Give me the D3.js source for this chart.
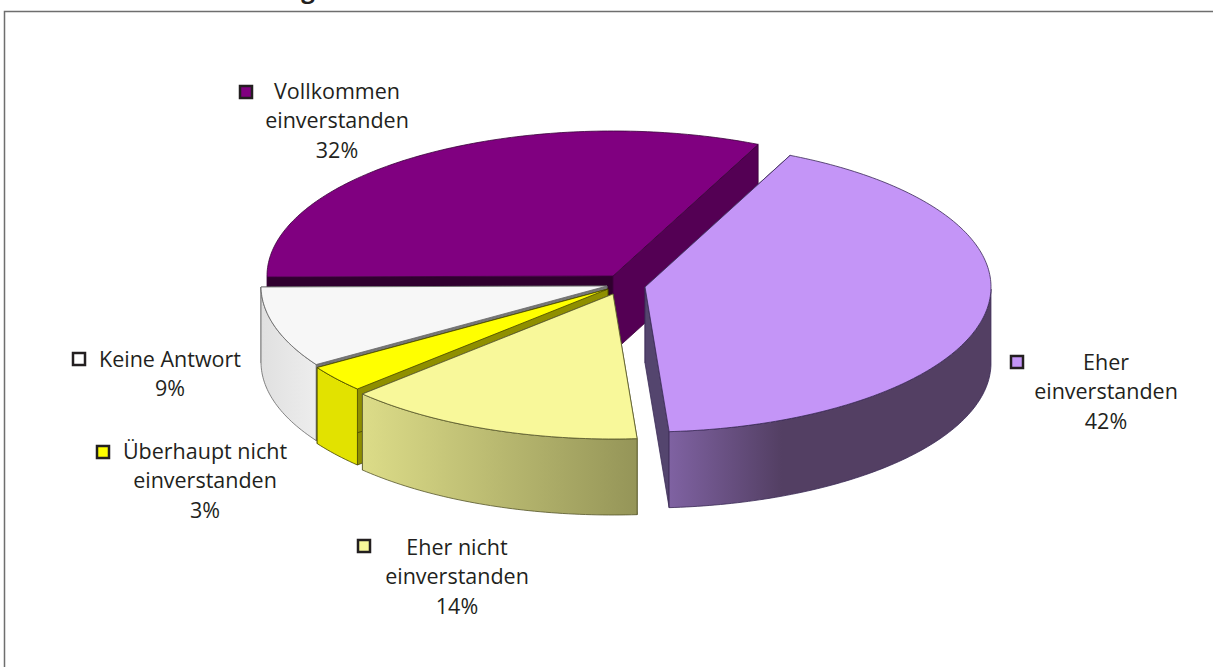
<!DOCTYPE html>
<html>
<head>
<meta charset="utf-8">
<script src="https://cdn.jsdelivr.net/npm/d3@7/dist/d3.min.js"></script>
<style>
html,body{margin:0;padding:0;background:#fff;}
svg{display:block;}
text{font-family:"Open Sans",sans-serif;fill:#231f20;}
</style>
</head>
<body>
<div id="chart"></div>
<script>
// Data
const categories = ["Eher einverstanden","Eher nicht einverstanden","Überhaupt nicht einverstanden","Keine Antwort","Vollkommen einverstanden"];
const values = [42,14,3,9,32];
const labelLines = [["Eher","einverstanden","42%"],["Eher nicht","einverstanden","14%"],["Überhaupt nicht","einverstanden","3%"],["Keine Antwort","9%"],["Vollkommen","einverstanden","32%"]];

// Styling
const topColors = ["#c495f7","#f8f89a","#ffff00","#f7f7f7","#800080"];
const sideFrom  = ["#7f62a2","#dcdc88","#e2e200","#e0e0e0","#540054"];
const sideTo    = ["#533f63","#959558","#e2e200","#ededed","#540054"];
const cutStart  = ["#54456e","#8f8f00","#8f8f00","#777777","#30002f"];
const cutEnd    = ["#54456e","#b0b060","#8f8f00","#777777","#540054"];
const strokes   = ["#3a2a55","#55552a","#444400","#666666","#3a003a"];
// slice apex positions on the page, from the exploded layout
const apexX = [645,613,608,607,613];
const apexY = [287,294,289,286,276];
const legendX = [1017,364,103,79,246];
const legendY = [362,546,452,359,92];
const textX = [1106,457,205,170,337];
const firstLineY = [370,555,459,367,99];
const drawOrder = [4,3,2,1,0];

const W=1213,H=667,rx=346,ry=145,depth=76,lineH=29.3,fontSize=21.5;

const svg=d3.select("#chart").append("svg").attr("width",W).attr("height",H);
const defs=svg.append("defs");

// frame
svg.append("path").attr("d",`M4.5,${H}V11.5H${W}`).attr("fill","none").attr("stroke","#6e6e6e").attr("stroke-width",1.5);
svg.append("text").attr("x",308).attr("y",-2).attr("font-size",24).attr("font-weight",700).attr("text-anchor","middle").text("g");

const pie=d3.pie().sort(null).value(d=>d).startAngle(24.8*Math.PI/180).endAngle(384.8*Math.PI/180);
const arcs=pie(values);
const px=(a,i)=>apexX[i]+rx*Math.sin(a);
const py=(a,i)=>apexY[i]-ry*Math.cos(a);
const line=d3.line();

drawOrder.forEach(i=>{
  const s=arcs[i];
  const n=Math.max(8,Math.round((s.endAngle-s.startAngle)*60));
  const angles=d3.range(n+1).map(k=>s.startAngle+(s.endAngle-s.startAngle)*k/n);
  const rim=angles.map(a=>[px(a,i),py(a,i)]);
  const g=svg.append("g");
  const ax=apexX[i],ay=apexY[i];
  // cut faces
  const face=(x,y,fill)=>g.append("path")
    .attr("d",line([[ax,ay],[x,y],[x,y+depth],[ax,ay+depth]])+"Z")
    .attr("fill",fill).attr("stroke",strokes[i]).attr("stroke-width",0.8);
  face(rim[0][0],rim[0][1],cutStart[i]);
  face(rim[n][0],rim[n][1],cutEnd[i]);
  // outer wall: only the part facing the viewer (lower half of the ellipse)
  const front=rim.filter((p,k)=>Math.cos(angles[k])<=0.001);
  if(front.length>1){
    const gid="side"+i;
    const lg=defs.append("linearGradient").attr("id",gid).attr("gradientUnits","userSpaceOnUse")
      .attr("x1",front[front.length-1][0]).attr("x2",front[0][0])
      .attr("y1",0).attr("y2",0);
    lg.append("stop").attr("offset",0).attr("stop-color",sideFrom[i]);
    lg.append("stop").attr("offset",i===0?0.35:1).attr("stop-color",sideTo[i]);
    lg.append("stop").attr("offset",1).attr("stop-color",sideTo[i]);
    const wall=front.concat(front.slice().reverse().map(p=>[p[0],p[1]+depth]));
    g.append("path").attr("d",line(wall)+"Z").attr("fill",`url(#${gid})`).attr("stroke",strokes[i]).attr("stroke-width",0.8);
  }
  // top
  g.append("path").attr("d",line([[ax,ay],...rim])+"Z")
    .attr("fill",topColors[i]).attr("stroke",strokes[i]).attr("stroke-width",0.8).attr("stroke-linejoin","round");
});

// labels
categories.forEach((c,i)=>{
  svg.append("rect").attr("x",legendX[i]-6).attr("y",legendY[i]-6).attr("width",12).attr("height",12)
    .attr("fill",topColors[i]==="#f7f7f7"?"#ffffff":topColors[i]).attr("stroke","#231f20").attr("stroke-width",2.5);
  const t=svg.append("text").attr("text-anchor","middle").attr("font-size",fontSize);
  labelLines[i].forEach((l,k)=>t.append("tspan").attr("x",textX[i]).attr("y",firstLineY[i]+k*lineH).text(l));
});
</script>
</body>
</html>
